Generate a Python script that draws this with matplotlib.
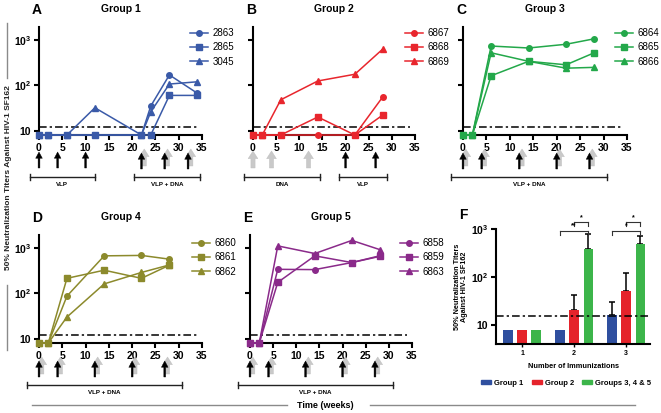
import numpy as np
import matplotlib.pyplot as plt
from matplotlib.lines import Line2D
from matplotlib.patches import Patch

plt.rcParams['font.family'] = ['Liberation Sans', 'DejaVu Sans']
plt.rcParams['mathtext.fontset'] = 'custom'
plt.rcParams['mathtext.rm'] = 'Liberation Sans'
plt.rcParams['mathtext.bf'] = 'Liberation Sans:bold'

# ---- data ----
weeks_g1 = [0, 2, 6, 12, 22, 24, 28, 34]
weeks_g25 = [0, 2, 6, 14, 22, 28]

g1_ids = ['2863', '2865', '3045']
g1_vals = [[8, 8, 8, 8, 8, 35, 170, 67],
           [8, 8, 8, 8, 8, 8, 60, 60],
           [8, 8, 8, 32, 8, 26, 107, 120]]
g2_ids = ['6867', '6868', '6869']
g2_vals = [[8, 8, 8, 8, 8, 55],
           [8, 8, 8, 20, 8, 22],
           [8, 8, 48, 125, 176, 630]]
g3_ids = ['6864', '6865', '6866']
g3_vals = [[8, 8, 740, 670, 810, 1070],
           [8, 8, 163, 340, 285, 525],
           [8, 8, 525, 340, 240, 250]]
g4_ids = ['6860', '6861', '6862']
g4_vals = [[8, 8, 87, 675, 690, 570],
           [8, 8, 215, 325, 215, 420],
           [8, 8, 30, 162, 290, 425]]
g5_ids = ['6858', '6859', '6863']
g5_vals = [[8, 8, 340, 335, 480, 675],
           [8, 8, 175, 675, 480, 655],
           [8, 8, 1120, 760, 1480, 930]]

cutoff_time = 12
cutoff_bar = 15.4

# immunization arrows (weeks): vlp = black, dna = grey, combo = both
g1_vlp, g1_dna, g1_combo = [0, 4, 10], [], [22, 27, 32]
g2_vlp, g2_dna, g2_combo = [20, 26.5], [0, 4, 12], []
g35_vlp, g35_dna, g35_combo = [], [], [0, 4, 12, 20, 27]

g1_brackets = [(-2, 12, 'VLP'), (20.5, 34.5, 'VLP + DNA')]
g2_brackets = [(-2, 14.5, 'DNA'), (18.5, 29, 'VLP')]
g35_brackets = [(-2.6, 30.8, 'VLP + DNA')]

# panel F
n_imm = [1, 2, 3]
bar_g1 = [8, 8, 16]
bar_g1_top = [8, 8, 30]
bar_g2 = [8, 20.5, 51]
bar_g2_top = [8, 42, 120]
bar_g345 = [8, 380, 480]
bar_g345_top = [8, 800, 710]

W, H = 661, 413
fig = plt.figure(figsize=(W / 100, H / 100), dpi=100)


def box(l, t, r, b):
    return [l / W, 1 - b / H, (r - l) / W, (b - t) / H]


def style_axes(ax, labels=True):
    for s in ['top', 'right']:
        ax.spines[s].set_visible(False)
    for s in ['left', 'bottom']:
        ax.spines[s].set_linewidth(1.5)
    ax.tick_params(width=1.5, length=3.5, pad=2)
    ax.set_yscale('log')
    ax.yaxis.set_major_locator(plt.FixedLocator([10, 100, 1000]))
    ax.yaxis.set_minor_locator(plt.NullLocator())
    if labels:
        ax.set_yticklabels(['10', r'$\mathbf{10^2}$', r'$\mathbf{10^3}$'],
                           fontsize=7.5, fontweight='bold')
    else:
        ax.set_yticklabels([])


def arrow(ax, x, y0, y1, grey=False):
    if grey:
        props = dict(width=3, headwidth=7, headlength=5.5, facecolor='#c9c9c9',
                     edgecolor='#bdbdbd', lw=0.3, shrink=0)
    else:
        props = dict(width=1.3, headwidth=4.8, headlength=4.5, facecolor='black',
                     edgecolor='black', lw=0.3, shrink=0)
    ax.annotate('', xy=(x, y1), xytext=(x, y0), xycoords=ax.get_xaxis_transform(),
                arrowprops=props, annotation_clip=False)


def time_panel(px, letter, title, weeks, ids, vals, color, vlp, dna, combo,
               brackets, leg_xy, ylabels):
    l, t, r, b = px
    h = b - t
    ax = fig.add_axes(box(l, t, r, b))
    for ser, lab, mk in zip(vals, ids, ['o', 's', '^']):
        ax.plot(weeks, ser, marker=mk, color=color, lw=1.1, ms=4, label=lab,
                clip_on=False, zorder=3)
    ax.hlines(cutoff_time, 0, 34, colors='black', lw=1.1, linestyles=(0, (5, 2, 1.5, 2)))
    style_axes(ax, ylabels)
    ax.set_ylim(8, 1950)
    ax.set_xlim(0, 35)
    ax.set_xticks(range(0, 36, 5))
    ax.set_xticklabels([str(v) for v in range(0, 36, 5)], fontsize=7.5, fontweight='bold')

    tx = ax.get_xaxis_transform()
    f = lambda d: -d / h
    for x in dna:
        arrow(ax, x, f(33), f(16), grey=True)
    for x in vlp:
        arrow(ax, x, f(33), f(17))
    for x in combo:
        arrow(ax, x + 0.6, f(31), f(14), grey=True)
        arrow(ax, x, f(34), f(18))
    for x0, x1, lab in brackets:
        ax.plot([x0, x1], [f(42), f(42)], color='#222222', lw=1, transform=tx, clip_on=False)
        for xx in (x0, x1):
            ax.plot([xx, xx], [f(39), f(45)], color='#222222', lw=1, transform=tx, clip_on=False)
        ax.text((x0 + x1) / 2, f(49), lab, transform=tx, ha='center', va='center',
                fontsize=4.5, fontweight='bold')
    ax.set_xlim(0, 35)

    ax.legend(loc='upper left', bbox_to_anchor=(leg_xy[0] / W, 1 - leg_xy[1] / H),
              bbox_transform=fig.transFigure, frameon=False, fontsize=7,
              handlelength=1.9, handletextpad=0.45, labelspacing=0.45,
              borderpad=0, borderaxespad=0)
    fig.text((l + r) / 2 / W, 1 - (t - 18) / H, title, ha='center', va='center',
             fontsize=7.5, fontweight='bold')
    fig.text((l - 2) / W, 1 - (t - 17) / H, letter, ha='center', va='center',
             fontsize=10, fontweight='bold')
    return ax


blue, red, green = '#3a5aa8', '#e8262d', '#23a84a'
olive, purple = '#8c8a2c', '#8a2a8a'

time_panel((39, 27, 202, 135), 'A', 'Group 1', weeks_g1, g1_ids, g1_vals, blue,
           g1_vlp, g1_dna, g1_combo, g1_brackets, (190, 28), True)
time_panel((253, 27, 415, 135), 'B', 'Group 2', weeks_g25, g2_ids, g2_vals, red,
           g2_vlp, g2_dna, g2_combo, g2_brackets, (405, 28), False)
time_panel((463, 27, 627, 135), 'C', 'Group 3', weeks_g25, g3_ids, g3_vals, green,
           g35_vlp, g35_dna, g35_combo, g35_brackets, (615, 28), False)
time_panel((39, 235, 202, 343), 'D', 'Group 4', weeks_g25, g4_ids, g4_vals, olive,
           g35_vlp, g35_dna, g35_combo, g35_brackets, (192, 238), True)
time_panel((250, 235, 412, 343), 'E', 'Group 5', weeks_g25, g5_ids, g5_vals, purple,
           g35_vlp, g35_dna, g35_combo, g35_brackets, (400, 238), False)

# ---- panel F ----
axf = fig.add_axes(box(496, 229, 650, 344))
x = np.array(n_imm, dtype=float)
off, bw = 0.277, 0.19
for dx, vals, tops, c in [(-off, bar_g1, bar_g1_top, '#2f4f9f'),
                          (0, bar_g2, bar_g2_top, '#e5232b'),
                          (off, bar_g345, bar_g345_top, '#3cb54a')]:
    vals = np.array(vals, dtype=float)
    err = np.array(tops, dtype=float) - vals
    axf.bar(x + dx, vals, width=bw, color=c, zorder=2)
    m = err > 0
    axf.errorbar((x + dx)[m], vals[m], yerr=[np.zeros(m.sum()), err[m]], fmt='none',
                 ecolor='black', elinewidth=1.1, capsize=2.5, capthick=1.1, zorder=1)
style_axes(axf)
axf.set_ylim(4, 1000)
axf.set_xlim(0.5, 3.46)
axf.set_xticks(n_imm)
axf.set_xticklabels([str(v) for v in n_imm], fontsize=5, fontweight='bold')
axf.tick_params(axis='x', length=2, width=1)
axf.axhline(cutoff_bar, color='black', lw=1.1, ls=(0, (5, 2, 1.5, 2)), zorder=3)
axf.set_xlabel('Number of Immunizations', fontsize=5.3, fontweight='bold', labelpad=5)
axf.set_ylabel('50% Neutralization Titers\nAgainst HIV-1 SF162', fontsize=5.2,
               fontweight='bold', labelpad=2, linespacing=1.0)

tf = axf.get_xaxis_transform()
hf = 115.0
for xc in [2, 3]:
    for x0, x1, yp, star in [(xc - off, xc + off, 230.7, '**' if xc == 2 else '*'),
                             (xc, xc + off, 222, '*')]:
        yf = (344 - yp) / hf
        axf.plot([x0, x1], [yf, yf], color='#333333', lw=0.8, transform=tf, clip_on=False)
        for xx in (x0, x1):
            axf.plot([xx, xx], [yf, yf - 4 / hf], color='#333333', lw=0.8, transform=tf,
                     clip_on=False)
        axf.text((x0 + x1) / 2, yf + 1 / hf, star, transform=tf, ha='center', va='bottom',
                 fontsize=5, fontweight='bold')
axf.set_xlim(0.5, 3.46)

handles = [Patch(color='#2f4f9f'), Patch(color='#e5232b'), Patch(color='#3cb54a')]
fig.legend(handles, ['Group 1', 'Group 2', 'Groups 3, 4 & 5'], loc='upper left',
           bbox_to_anchor=(481 / W, 1 - 380 / H), ncol=3, frameon=False,
           prop=dict(size=5.5, weight='bold'), handlelength=1.3, handleheight=0.35,
           handletextpad=0.4, columnspacing=1.1, borderpad=0, borderaxespad=0)
fig.text(463 / W, 1 - 215 / H, 'F', ha='center', va='center', fontsize=10, fontweight='bold')

# ---- shared labels ----
fig.text(9 / W, 1 - 178 / H, '50% Neutralization Titers Against HIV-1 SF162', rotation=90,
         ha='center', va='center', fontsize=6, fontweight='bold', color='#222222')
fig.add_artist(Line2D([7 / W, 7 / W], [1 - 23 / H, 1 - 78 / H], color='#8a8a8a', lw=1))
fig.add_artist(Line2D([7 / W, 7 / W], [1 - 285 / H, 1 - 350 / H], color='#8a8a8a', lw=1))
fig.text(325 / W, 1 - 405 / H, 'Time (weeks)', ha='center', va='center', fontsize=6.5,
         fontweight='bold')
fig.add_artist(Line2D([32 / W, 287 / W], [1 - 405 / H] * 2, color='#8a8a8a', lw=1))
fig.add_artist(Line2D([370 / W, 635 / W], [1 - 405 / H] * 2, color='#8a8a8a', lw=1))

fig.savefig('out.png', dpi=100)
